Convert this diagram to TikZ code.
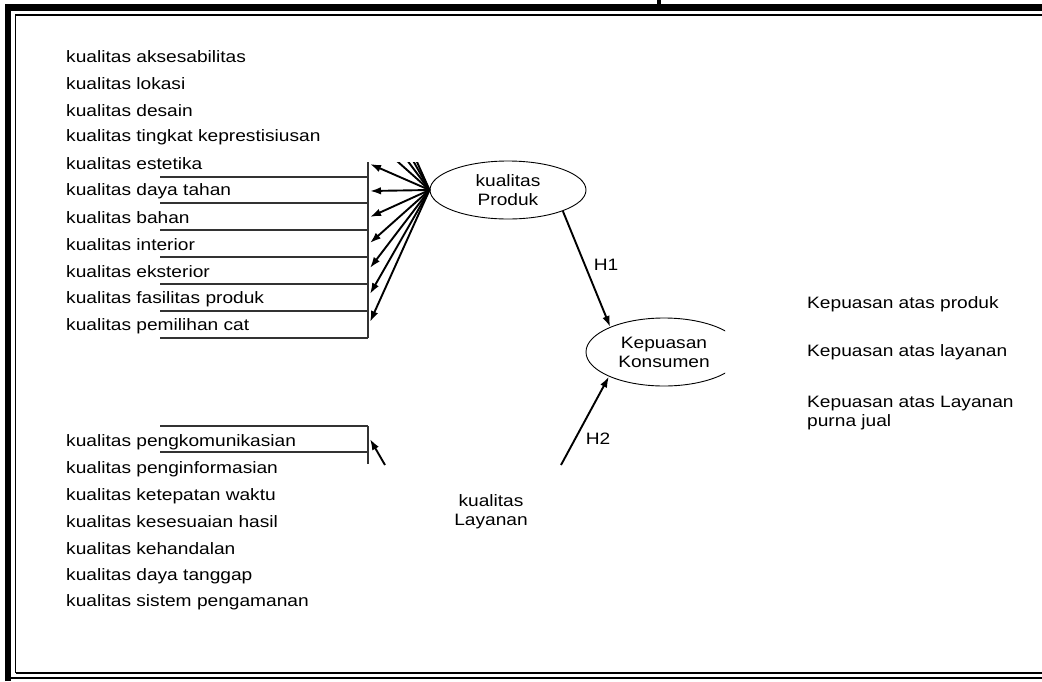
\documentclass[tikz,border=0pt]{standalone}
\usepackage{fontspec}
\setmainfont{Liberation Sans}[FakeStretch=1.16]
\usetikzlibrary{arrows.meta,shapes.geometric}
\begin{document}
\begin{tikzpicture}[x=1pt,y=-1pt,
  lbl/.style={anchor=west,inner sep=0pt,font=\fontsize{16.5}{19}\selectfont},
  ctext/.style={align=center,inner sep=0pt,font=\fontsize{16.5}{19}\selectfont},
  ell/.style={ellipse,draw,line width=0.9pt,inner sep=0pt,align=center,font=\fontsize{16.5}{19}\selectfont},
  rule/.style={line width=1.1pt,draw=black!80},
  arr/.style={line width=1.9pt,-{Latex[length=11pt,width=7.5pt]}},
  plain/.style={line width=1.9pt}]
\useasboundingbox (0,0) rectangle (1042,681);
\fill[white] (0,0) rectangle (1042,681);
% frame
\draw[line width=6.5pt] (8,681) -- (8,7.25) -- (1042,7.25);
\draw[line width=1.6pt] (15.5,673) -- (15.5,15) -- (1042,15);
\draw[line width=1.6pt] (15.5,673) -- (1042,673);
\draw[line width=2pt] (11,678) -- (1042,678);
\fill (657,0) rectangle (661,4);
% upper list
\foreach \t/\y in {kualitas aksesabilitas/57, kualitas lokasi/84, kualitas desain/111,
  kualitas tingkat keprestisiusan/137, kualitas estetika/164, kualitas daya tahan/191,
  kualitas bahan/218, kualitas interior/245, kualitas eksterior/272,
  kualitas fasilitas produk/299, kualitas pemilihan cat/326}
  \node[lbl] at (66,\y) {\t};
% rules of upper box
\foreach \y in {177,203,230,257,284,311,338}
  \draw[rule] (160,\y) -- (368,\y);
\draw[rule] (368,162) -- (368,338);
% ellipses
\node[ell,minimum width=156pt,minimum height=58pt] (prod) at (508,190) {kualitas\\Produk};
\begin{scope}
\clip (0,0) rectangle (725,681);
\node[ell,minimum width=156pt,minimum height=68pt] (kep) at (664,352) {Kepuasan\\Konsumen};
\end{scope}
% arrow targets
\foreach \i/\y in {1/164,2/191,3/217,4/243,5/268,6/294,7/322}
  \coordinate (t\i) at (370,\y);
\foreach \i in {1,...,7}
  \draw[arr] (prod.west) -- (t\i);
\coordinate (u1) at (370,137);
\coordinate (u2) at (370,111);
\coordinate (u3) at (370,84);
\coordinate (u4) at (370,57);
\begin{scope}
\clip (0,162) rectangle (1042,681);
\foreach \i in {1,...,4}
  \draw[plain] (prod.west) -- (u\i);
\end{scope}
% H1
\draw[arr] (prod.-21) -- (kep.155.6);
\node[ctext] (h1) at (606,265) {H1};
% lower list
\foreach \t/\y in {kualitas pengkomunikasian/442, kualitas penginformasian/469,
  kualitas ketepatan waktu/496, kualitas kesesuaian hasil/522, kualitas kehandalan/549,
  kualitas daya tanggap/576, kualitas sistem pengamanan/602}
  \node[lbl] at (66,\y) {\t};
\draw[rule] (160,426) -- (368,426);
\draw[rule] (160,452) -- (368,452);
\draw[rule] (368,426) -- (368,464);
\coordinate (lay1) at (385,465);
\coordinate (l1) at (370,439);
\draw[arr] (lay1) -- (l1);
% layanan
\node[ctext] (lay) at (491,512) {kualitas\\Layanan};
\coordinate (h2s) at (561,465);
\draw[arr] (h2s) -- (kep.204.4);
\node[ctext] (h2) at (598,439) {H2};
% right list
\node[lbl] (r1) at (807,304) {Kepuasan atas produk};
\node[lbl] (r2) at (807,352) {Kepuasan atas layanan};
\node[lbl,align=left] (r3) at (807,413) {Kepuasan atas Layanan\\purna jual};
\end{tikzpicture}
\end{document}
